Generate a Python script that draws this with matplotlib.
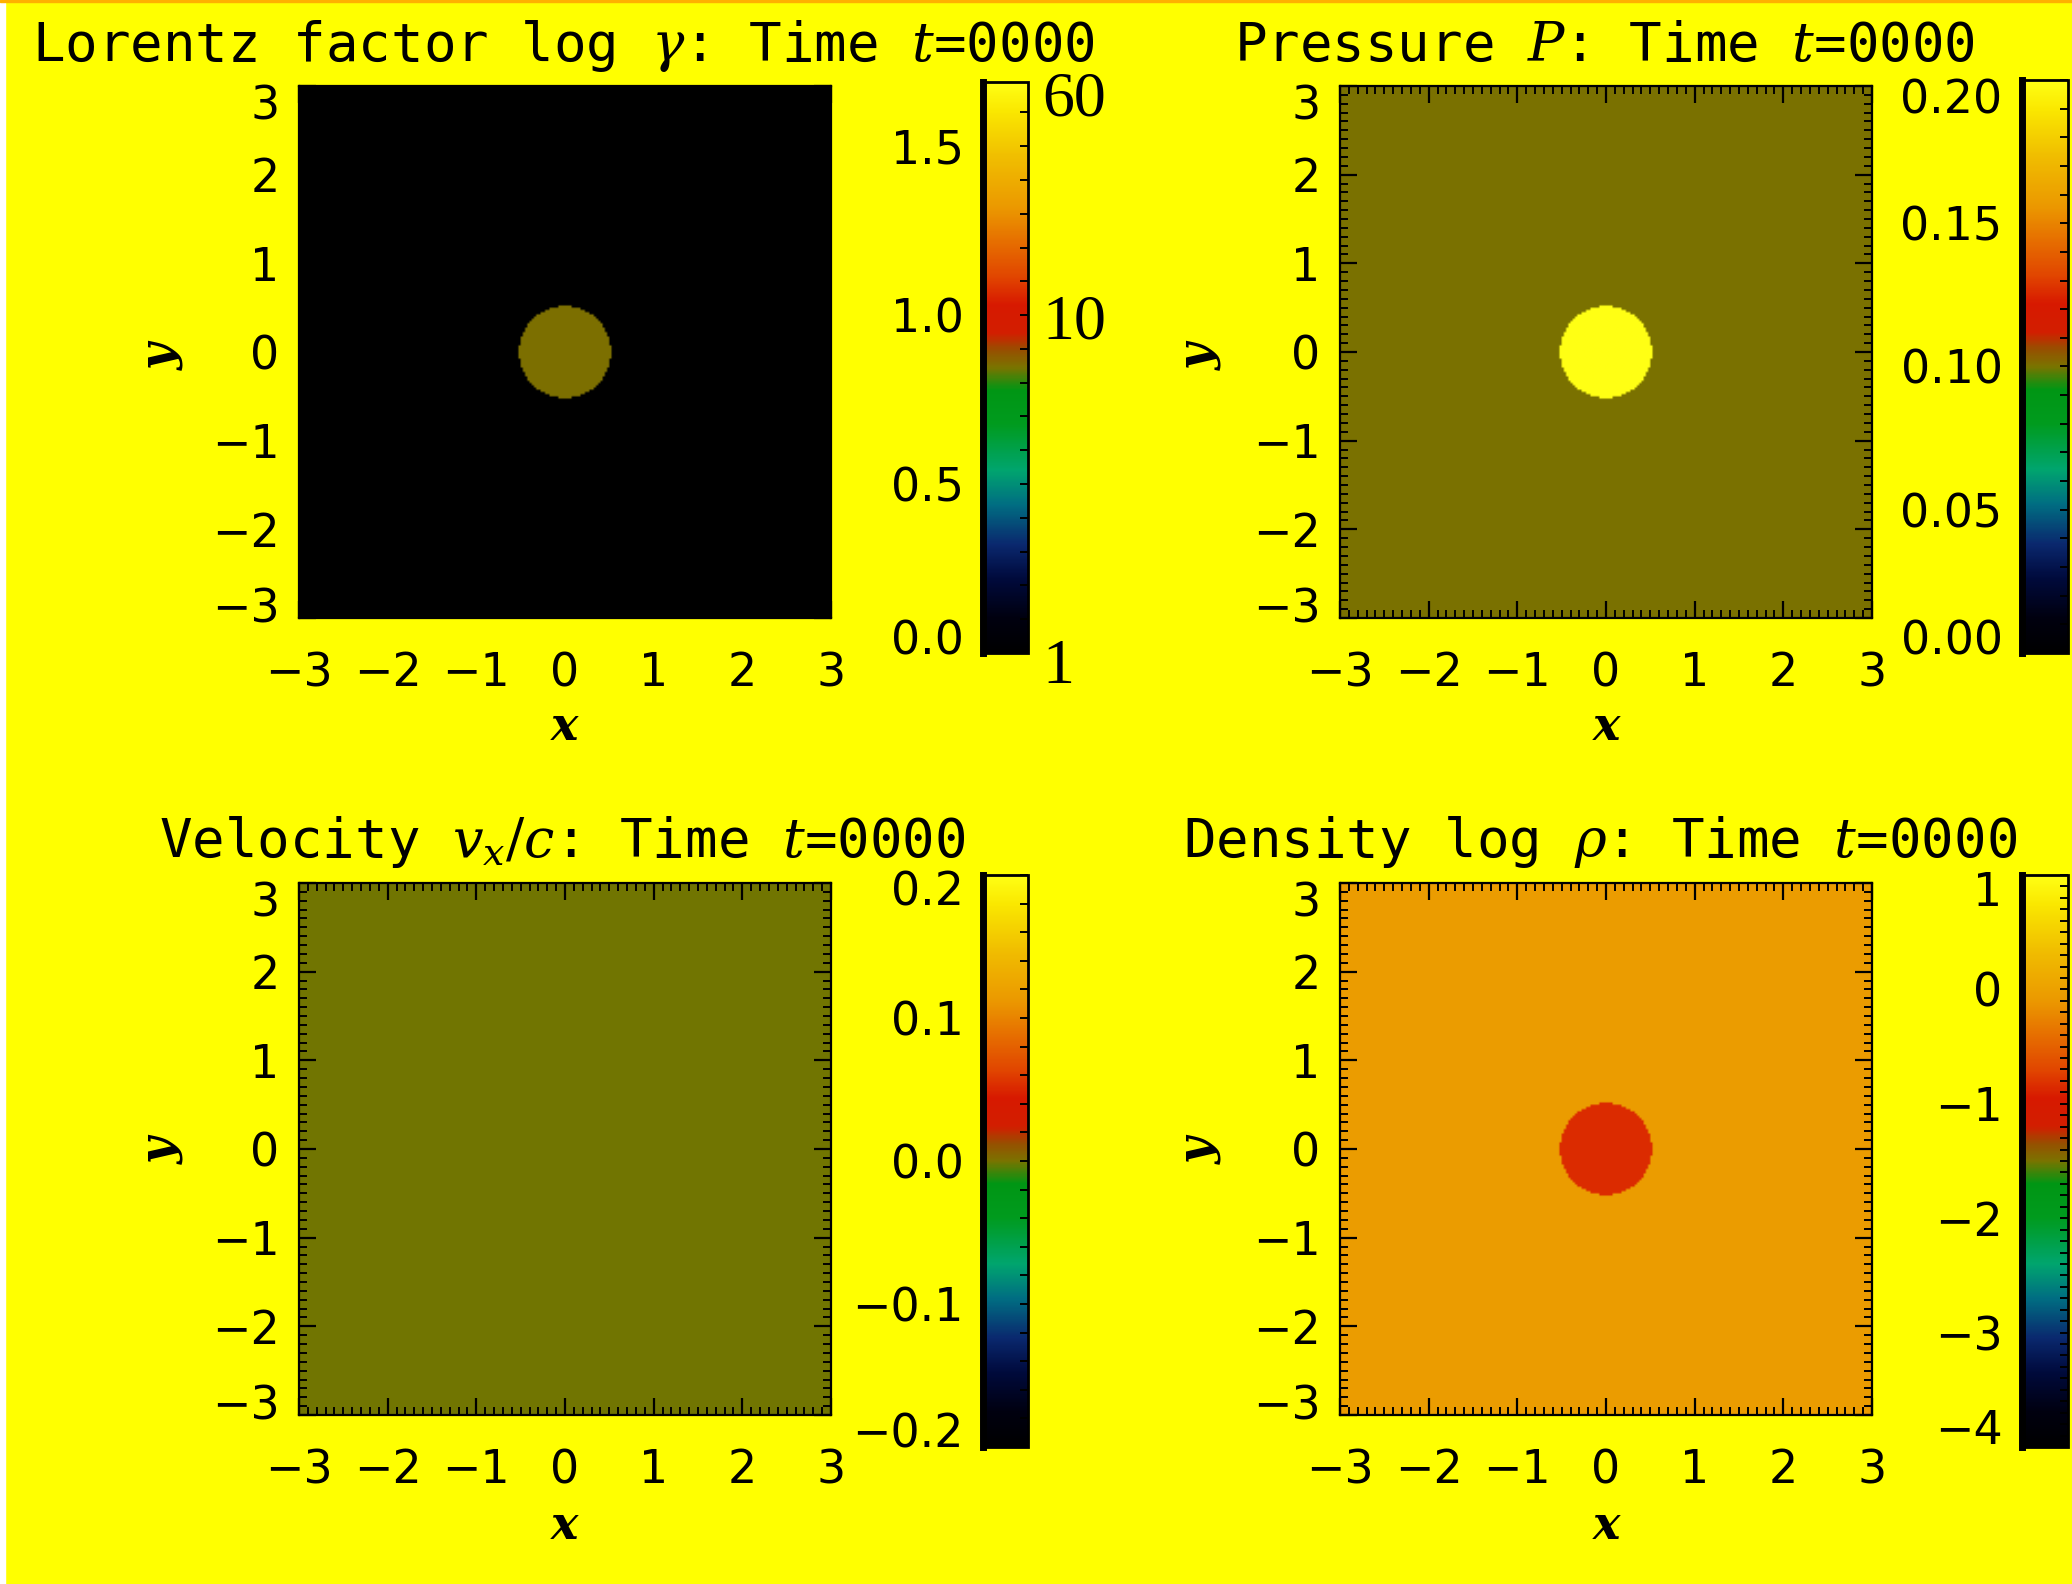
import numpy as np
import matplotlib
matplotlib.use("Agg")
import matplotlib.pyplot as plt
from matplotlib.colors import LinearSegmentedColormap
from matplotlib.ticker import FixedLocator, MultipleLocator
from matplotlib.patches import Rectangle
import matplotlib.transforms as mtransforms

W, H, DPI = 2072, 1584, 100

# ---------------- data ----------------
titles = [r"Lorentz factor log $\gamma$: Time $t$=0000",
          r"Pressure $P$: Time $t$=0000",
          r"Velocity $v_x/c$: Time $t$=0000",
          r"Density log $\rho$: Time $t$=0000"]
domain = [-3.0, 3.0]
axis_ticks = [-3, -2, -1, 0, 1, 2, 3]
circle_radius = 0.52
grid_n = 240

inside_values = [0.85, 0.20, -0.001, -0.85]
outside_values = [0.0, 0.10, -0.001, -0.05]

cbar_ranges = [(0.0, 1.69), (0.0, 0.20), (-0.2, 0.2), (-4.0, 1.0)]
cbar_ticks = [[0.0, 0.5, 1.0, 1.5],
              [0.0, 0.05, 0.10, 0.15, 0.20],
              [-0.2, -0.1, 0.0, 0.1, 0.2],
              [-4, -3, -2, -1, 0, 1]]
cbar_ticklabels = [["0.0", "0.5", "1.0", "1.5"],
                   ["0.00", "0.05", "0.10", "0.15", "0.20"],
                   ["\u22120.2", "\u22120.1", "0.0", "0.1", "0.2"],
                   ["\u22124", "\u22123", "\u22122", "\u22121", "0", "1"]]
cbar_minor_steps = [0.1, 0.01, 0.02, 0.1]
gamma_labels = ["60", "10", "1"]
gamma_label_values = [1.69, 1.0, 0.0]

# ---------------- colormap (IDL-like) ----------------
anchors = [(0.00, (0, 0, 0)), (0.06, (0, 0, 15)), (0.13, (0, 10, 60)),
           (0.19, (10, 40, 110)), (0.26, (0, 110, 130)), (0.32, (0, 165, 110)),
           (0.40, (0, 155, 30)), (0.46, (0, 150, 20)), (0.50, (122, 115, 0)),
           (0.53, (150, 80, 0)), (0.56, (210, 30, 0)), (0.61, (215, 25, 0)),
           (0.66, (225, 70, 0)), (0.72, (230, 110, 0)), (0.78, (235, 152, 0)),
           (0.87, (240, 190, 0)), (0.95, (250, 232, 0)), (1.00, (255, 255, 20))]
cmap = LinearSegmentedColormap.from_list(
    "idl", [(p, tuple(c / 255 for c in rgb)) for p, rgb in anchors], N=512)

plt.rcParams["font.family"] = "DejaVu Sans"
plt.rcParams["mathtext.fontset"] = "dejavuserif"

fig = plt.figure(figsize=(W / DPI, H / DPI), dpi=DPI, facecolor="#FFFF00")


def fx(px):
    return px / W


def fy(py):
    return 1 - py / H


def shift(label, dy_px):
    off = mtransforms.ScaledTranslation(0, dy_px / DPI, fig.dpi_scale_trans)
    label.set_transform(label.get_transform() + off)


axes_boxes = [(299, 86), (1340, 86), (299, 883), (1340, 883)]
AX_SIZE = 532
cbar_boxes = [(983, 82, 45, 571), (2022, 80, 46, 573), (983, 875, 45, 572), (2022, 875, 46, 572)]
title_pos = [(563, 46), (1604, 46), (562, 842), (1600, 842)]
xlabel_pos = [(565, 727), (1606, 727), (565, 1526), (1606, 1526)]
ylabel_pos = [(161, 357), (1199, 357), (161, 1151), (1199, 1151)]
cbar_end_shift = [(16, 0), (16, -16), (17, -13), (20, -13)]
gamma_label_dy = [-19, -8, -15]

xs = np.linspace(domain[0], domain[1], grid_n)
X, Y = np.meshgrid(xs, xs)
R = np.hypot(X, Y)

for i in range(4):
    x0, y0 = axes_boxes[i]
    ax = fig.add_axes([fx(x0), fy(y0 + AX_SIZE), AX_SIZE / W, AX_SIZE / H])
    field = np.where(R < circle_radius, inside_values[i], outside_values[i])
    vmin, vmax = cbar_ranges[i]
    im = ax.imshow(field, origin="lower", extent=[domain[0], domain[1], domain[0], domain[1]],
                   cmap=cmap, vmin=vmin, vmax=vmax, interpolation="bilinear", aspect="auto")
    ax.set_xlim(domain)
    ax.set_ylim(domain)
    ax.xaxis.set_major_locator(FixedLocator(axis_ticks))
    ax.yaxis.set_major_locator(FixedLocator(axis_ticks))
    ax.xaxis.set_minor_locator(MultipleLocator(0.1))
    ax.yaxis.set_minor_locator(MultipleLocator(0.1))
    ax.set_xticklabels(["\u2212%d" % -t if t < 0 else "%d" % t for t in axis_ticks])
    ax.set_yticklabels(["\u2212%d" % -t if t < 0 else "%d" % t for t in axis_ticks])
    ax.tick_params(which="both", direction="in", top=True, right=True, color="black")
    ax.tick_params(which="major", length=12, width=1.6)
    ax.tick_params(which="minor", length=6, width=1.4)
    ax.tick_params(axis="x", which="major", pad=24, labelsize=33)
    ax.tick_params(axis="y", which="major", pad=14, labelsize=33)
    for s in ax.spines.values():
        s.set_linewidth(1.6)
        s.set_color("black")
    yt = ax.yaxis.get_major_ticks()
    shift(yt[0].label1, 13)
    shift(yt[-1].label1, -16)

    fig.text(fx(title_pos[i][0]), fy(title_pos[i][1]), titles[i], ha="center", va="center",
             fontsize=39, family="DejaVu Sans Mono", color="black")
    fig.text(fx(xlabel_pos[i][0]), fy(xlabel_pos[i][1]), "x", ha="center", va="center",
             fontsize=33, family="DejaVu Serif", style="italic", weight="bold")
    fig.text(fx(ylabel_pos[i][0]), fy(ylabel_pos[i][1]), "y", ha="center", va="center",
             rotation=90, fontsize=33, family="DejaVu Serif", style="italic", weight="bold")

    cx, cy, cw, ch = cbar_boxes[i]
    cax = fig.add_axes([fx(cx), fy(cy + ch), cw / W, ch / H])
    cb = fig.colorbar(im, cax=cax)
    cb.set_ticks(cbar_ticks[i])
    cb.set_ticklabels(cbar_ticklabels[i])
    cax.yaxis.set_minor_locator(MultipleLocator(cbar_minor_steps[i]))
    cax.tick_params(which="both", left=False, right=True, labelleft=True, labelright=False,
                    direction="in", color="black")
    cax.tick_params(which="major", length=6, width=1.4, pad=14, labelsize=33)
    cax.tick_params(which="minor", length=6, width=1.4)
    cb.outline.set_linewidth(2.0)
    cb.outline.set_edgecolor("black")
    cax.plot([0, 0], [vmin, vmax], color="black", lw=5, clip_on=False, zorder=5)
    ct = cax.yaxis.get_major_ticks()
    up, down = cbar_end_shift[i]
    shift(ct[0].label1, up)
    if down != 0:
        shift(ct[-1].label1, down)

    if i == 0:
        for lab, val, dy in zip(gamma_labels, gamma_label_values, gamma_label_dy):
            t = cax.text(1.0, val, lab, ha="left", va="center",
                         fontsize=46, family="Liberation Serif", color="black")
            t.set_transform(cax.get_yaxis_transform() + mtransforms.ScaledTranslation(
                14 / DPI, dy / DPI, fig.dpi_scale_trans))

# thin frame details of the screenshot
fig.patches.append(Rectangle((0, 0), 5 / W, 1, transform=fig.transFigure, color="white", zorder=10))
fig.patches.append(Rectangle((0, 1 - 2 / H), 1, 2 / H, transform=fig.transFigure,
                             color="#FFB000", zorder=10))

fig.savefig("out.png", dpi=DPI, facecolor=fig.get_facecolor())
